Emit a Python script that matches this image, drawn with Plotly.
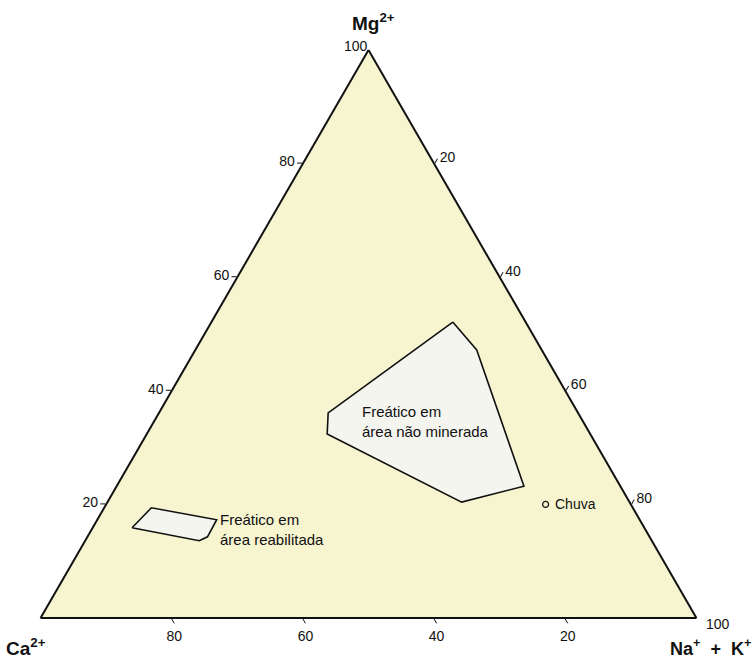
import plotly.graph_objects as go

# Ternary composition (%): Mg2+ (top), Ca2+ (left), Na+ + K+ (right)
tick_vals = [20, 40, 60, 80]

# Field: "Freático em área não minerada"
nao_min_mg = [52.1, 47.2, 23.2, 20.4, 32.4, 36.1, 52.1]
nao_min_ca = [11.1, 9.9, 14.7, 25.6, 40.1, 38.1, 11.1]
nao_min_na = [36.8, 42.9, 62.1, 54.0, 27.5, 25.8, 36.8]

# Field: "Freático em área reabilitada"
reab_mg = [15.9, 19.4, 17.3, 14.3, 13.6, 15.9]
reab_ca = [78.1, 73.4, 64.5, 67.4, 69.0, 78.1]
reab_na = [6.0, 7.2, 18.2, 18.3, 17.4, 6.0]

# Rain sample
chuva_mg = [20.0]
chuva_ca = [13.0]
chuva_na = [67.0]

FONT = "Arial, 'Liberation Sans', sans-serif"
W, H = 756, 663

fig = go.Figure()

poly_style = dict(mode="lines", fill="toself", fillcolor="#f4f5ef",
                  line=dict(color="#111111", width=1.6), hoverinfo="skip",
                  showlegend=False)

fig.add_trace(go.Scatterternary(a=nao_min_mg, b=nao_min_ca, c=nao_min_na,
                                name="Freático em área não minerada", **poly_style))
fig.add_trace(go.Scatterternary(a=reab_mg, b=reab_ca, c=reab_na,
                                name="Freático em área reabilitada", **poly_style))
fig.add_trace(go.Scatterternary(a=chuva_mg, b=chuva_ca, c=chuva_na, mode="markers",
                                name="Chuva", showlegend=False,
                                marker=dict(symbol="circle-open", size=6,
                                            color="#111111", line=dict(width=1.2))))

axis_common = dict(tickmode="array", tickvals=tick_vals, ticks="outside",
                   ticklen=5, tickwidth=1.2, tickcolor="#111111",
                   linecolor="#111111", linewidth=2, showgrid=False,
                   tickfont=dict(family=FONT, size=14, color="#111111"),
                   title=dict(text=""), min=0)

# Triangle spans x 40..697 px and y 50..618 px
fig.update_layout(
    width=W, height=H,
    margin=dict(l=0, r=0, t=0, b=0),
    paper_bgcolor="white",
    ternary=dict(
        sum=100,
        domain=dict(x=[40 / W, 697 / W], y=[1 - 618 / H, 1 - 50 / H]),
        bgcolor="#f7f5d0",
        aaxis=axis_common,
        baxis=axis_common,
        caxis=axis_common,
    ),
    showlegend=False,
)


def px_note(text, x, y, size=13, xanchor="left", yanchor="middle", bold=False):
    if bold:
        text = "<b>" + text + "</b>"
    fig.add_annotation(text=text, x=x / W, y=1 - y / H, xref="paper", yref="paper",
                       showarrow=False, xanchor=xanchor, yanchor=yanchor,
                       align="left",
                       font=dict(family=FONT, size=size, color="#111111"))


# Corner labels
px_note("Mg<sup>2+</sup>", 373, 22, size=19, xanchor="center", bold=True)
px_note("Ca<sup>2+</sup>", 26, 647, size=19, xanchor="center", bold=True)
px_note("Na<sup>+</sup>  +  K<sup>+</sup>", 753, 647, size=18, xanchor="right", bold=True)
px_note("100", 356, 46, size=14, xanchor="center")
px_note("100", 704, 624, size=14, xanchor="left")

# Field labels
px_note("Freático em<br>área não minerada", 360, 421, size=15)
px_note("Freático em<br>área reabilitada", 218, 529, size=15)
px_note("Chuva", 553, 504, size=14)

fig.write_html("out.html")
